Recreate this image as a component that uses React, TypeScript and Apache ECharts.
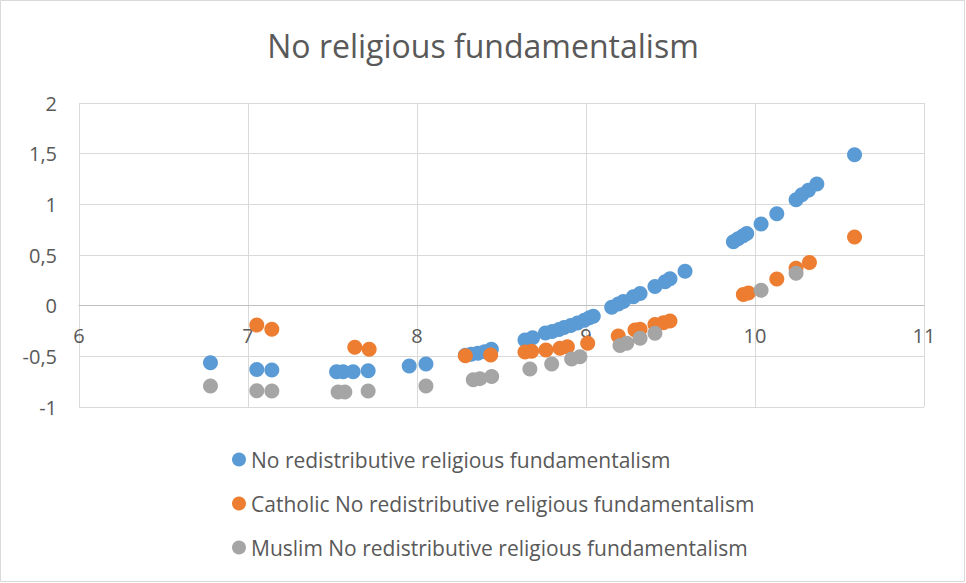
import React, { useEffect, useRef } from "react";
import * as echarts from "echarts";

const titleText = "No religious fundamentalism";
const seriesNames = [
  "No redistributive religious fundamentalism",
  "Catholic No redistributive religious fundamentalism",
  "Muslim No redistributive religious fundamentalism",
];

const blueX = [6.778, 7.052, 7.141, 7.524, 7.563, 7.622, 7.711, 7.954, 8.053, 8.286, 8.32, 8.36, 8.40, 8.44, 8.639, 8.684, 8.76, 8.80, 8.84, 8.87, 8.91, 8.95, 8.99, 9.02, 9.043, 9.152, 9.191, 9.221, 9.28, 9.32, 9.408, 9.468, 9.497, 9.586, 9.872, 9.90, 9.93, 9.951, 10.036, 10.129, 10.243, 10.277, 10.316, 10.366, 10.589];
const blueY = [-0.563, -0.629, -0.635, -0.652, -0.652, -0.652, -0.642, -0.596, -0.576, -0.49, -0.48, -0.47, -0.455, -0.43, -0.339, -0.316, -0.27, -0.255, -0.235, -0.215, -0.195, -0.17, -0.145, -0.12, -0.105, -0.016, 0.017, 0.04, 0.089, 0.12, 0.19, 0.237, 0.265, 0.34, 0.63, 0.66, 0.69, 0.712, 0.807, 0.906, 1.045, 1.094, 1.14, 1.2, 1.49];

const orangeX = [7.052, 7.141, 7.632, 7.717, 8.286, 8.436, 8.639, 8.678, 8.763, 8.846, 8.89, 9.01, 9.191, 9.29, 9.32, 9.408, 9.458, 9.497, 9.931, 9.961, 10.129, 10.243, 10.322, 10.589];
const orangeY = [-0.191, -0.233, -0.411, -0.431, -0.494, -0.487, -0.457, -0.45, -0.438, -0.421, -0.405, -0.37, -0.3, -0.24, -0.233, -0.185, -0.168, -0.151, 0.111, 0.125, 0.264, 0.37, 0.425, 0.678];

const grayX = [6.778, 7.052, 7.141, 7.533, 7.573, 7.711, 8.053, 8.333, 8.372, 8.442, 8.668, 8.797, 8.915, 8.964, 9.201, 9.241, 9.32, 9.408, 10.036, 10.243];
const grayY = [-0.793, -0.84, -0.843, -0.852, -0.852, -0.841, -0.793, -0.73, -0.72, -0.7, -0.625, -0.576, -0.527, -0.504, -0.392, -0.372, -0.322, -0.273, 0.152, 0.32];

const colors = ["#5B9BD5", "#ED7D31", "#A5A5A5"];

const zip = (xs: number[], ys: number[]) => xs.map((x, i) => [x, ys[i]]);

const GRID_TOP = 103;
const GRID_BOTTOM = 176;
const CHART_H = 583;
const Y_MIN = -1;
const Y_MAX = 2;

export default function App() {
  const ref = useRef<HTMLDivElement>(null);
  useEffect(() => {
    document.body.style.margin = "0";
    const chart = echarts.init(ref.current!, null, { renderer: "svg" });
    const font = "'Open Sans', sans-serif";
    const gridH = CHART_H - GRID_TOP - GRID_BOTTOM;
    const zeroOffset = -(gridH * (0 - Y_MIN)) / (Y_MAX - Y_MIN);
    chart.setOption({
      animation: false,
      backgroundColor: "#ffffff",
      color: colors,
      title: {
        text: titleText,
        left: "center",
        top: 24,
        textStyle: { fontFamily: font, fontSize: 32, fontWeight: "normal", color: "#595959" },
      },
      grid: { left: 79, right: 42, top: GRID_TOP, bottom: GRID_BOTTOM, containLabel: false },
      legend: {
        orient: "vertical",
        left: 227,
        top: 444,
        itemGap: 23,
        itemWidth: 14,
        itemHeight: 14,
        icon: "circle",
        textStyle: { fontFamily: font, fontSize: 21, color: "#595959" },
        data: seriesNames,
      },
      xAxis: {
        type: "value",
        min: 6,
        max: 11,
        interval: 1,
        offset: zeroOffset,
        axisLine: { show: true, onZero: false, lineStyle: { color: "#bfbfbf", width: 1 } },
        axisTick: { show: false },
        axisLabel: { margin: 20, fontFamily: font, fontSize: 20, color: "#595959" },
        splitLine: { show: true, lineStyle: { color: "#d9d9d9", width: 1 } },
      },
      yAxis: {
        type: "value",
        min: Y_MIN,
        max: Y_MAX,
        interval: 0.5,
        axisLine: { show: false },
        axisTick: { show: false },
        axisLabel: {
          margin: 22,
          fontFamily: font,
          fontSize: 20,
          color: "#595959",
          formatter: (v: number) => String(v).replace(".", ","),
        },
        splitLine: { show: true, lineStyle: { color: "#d9d9d9", width: 1 } },
      },
      graphic: [
        {
          type: "rect",
          shape: { x: 0.5, y: 0.5, width: 964, height: 581 },
          style: { fill: "none", stroke: "#d9d9d9", lineWidth: 1 },
          silent: true,
        },
      ],
      series: [
        { name: seriesNames[0], type: "scatter", symbolSize: 15, data: zip(blueX, blueY), itemStyle: { opacity: 1 } },
        { name: seriesNames[1], type: "scatter", symbolSize: 15, data: zip(orangeX, orangeY), itemStyle: { opacity: 1 } },
        { name: seriesNames[2], type: "scatter", symbolSize: 15, data: zip(grayX, grayY), itemStyle: { opacity: 1 } },
      ],
    });
    return () => chart.dispose();
  }, []);
  return <div ref={ref} style={{ width: 966, height: 583 }} />;
}
